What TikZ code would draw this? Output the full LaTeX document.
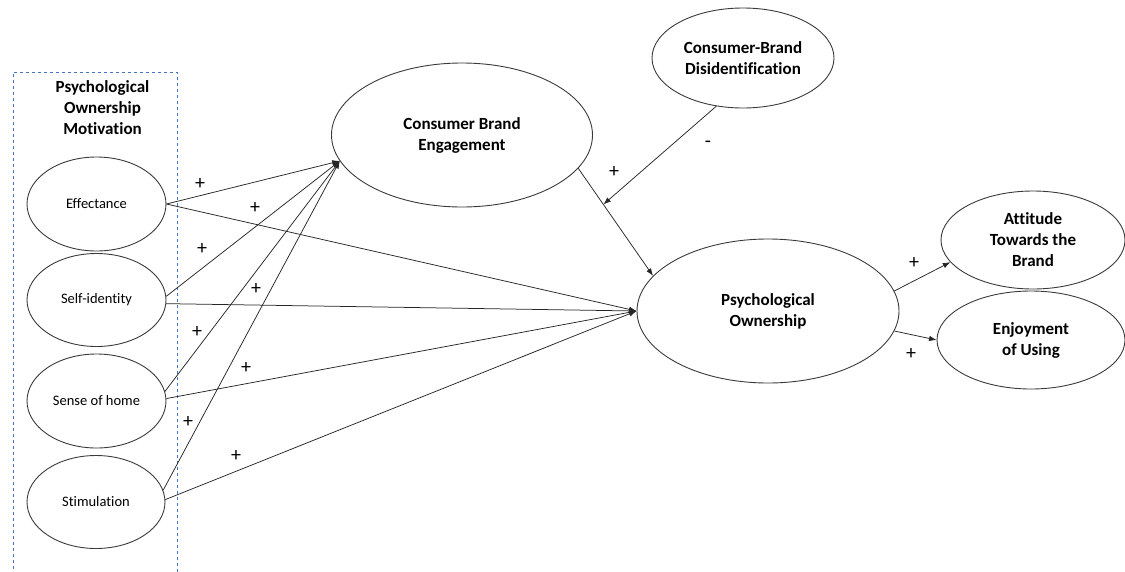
\documentclass[tikz,border=0pt]{standalone}
\usepackage{fontspec}
\setmainfont{Carlito}[Ligatures=NoCommon]
\usetikzlibrary{arrows.meta,shapes.geometric}
\definecolor{boxblue}{HTML}{4472C4}
\definecolor{edge}{HTML}{3A3A3A}
\tikzset{
  ell/.style={ellipse,draw=edge,line width=0.9pt,inner sep=0pt,align=center},
  small/.style={ell,font=\fontsize{14.5}{17}\selectfont},
  big/.style={ell,font=\bfseries\fontsize{17}{21}\selectfont},
  arr/.style={draw=black!85,line width=0.75pt,-{Latex[length=7.5pt,width=5.5pt]}},
  sign/.style={font=\fontsize{20}{20}\selectfont,inner sep=0pt}
}
\begin{document}
\begin{tikzpicture}[x=1pt,y=-1pt]
\useasboundingbox (0,0) rectangle (1125,571);
% dashed group box
\draw[boxblue,dashed,line width=0.7pt] (13,575) -- (13,72) -- (177,72) -- (177,575);
\node[font=\bfseries\fontsize{17}{21}\selectfont,align=center] (title) at (102.5,108) {Psychological\\Ownership\\Motivation};
% nodes
\node[small,minimum width=139pt,minimum height=94pt] (eff) at (96.5,204) {Effectance};
\node[small,minimum width=139pt,minimum height=93pt] (self) at (96.5,300) {Self-identity};
\node[small,minimum width=139pt,minimum height=94pt] (home) at (96.5,401) {Sense of home};
\node[small,minimum width=138pt,minimum height=93pt] (stim) at (96,502) {Stimulation};
\node[big,minimum width=261pt,minimum height=144pt] (cbe) at (462,135) {Consumer Brand\\Engagement};
\node[big,minimum width=182pt,minimum height=100pt] (dis) at (743,58) {Consumer-Brand\\Disidentification};
\node[big,minimum width=262pt,minimum height=144pt] (po) at (768,311) {Psychological\\Ownership};
\node[big,minimum width=184pt,minimum height=98pt] (att) at (1033,240) {Attitude\\Towards the\\Brand};
\node[big,minimum width=188pt,minimum height=98pt] (enj) at (1031,340) {Enjoyment\\of Using};
% arrows to CBE
\draw[arr] (eff.east) -- (cbe.192);
\draw[arr] (self.3) -- (cbe.192);
\draw[arr] (home.8) -- (cbe.192);
\draw[arr] (stim.10) -- (cbe.192);
% arrows to PO
\draw[arr] (eff.east) -- (po.west);
\draw[arr] (self.-3) -- (po.west);
\draw[arr] (home.2) -- (po.west);
\draw[arr] (stim.2) -- (po.west);
% CBE -> PO with moderator
\draw[arr] (cbe.-16) -- coordinate[pos=0.336] (mod) (po.163);
\draw[arr] (dis.241) -- (mod);
% outcomes
\draw[arr] (po.9) -- (att.195);
\draw[arr] (po.-9.4) -- (enj.west);
% signs
\node[sign] (s1) at (200,184) {+};
\node[sign] (s2) at (255,208) {+};
\node[sign] (s3) at (202,249) {+};
\node[sign] (s4) at (256,289) {+};
\node[sign] (s5) at (197,332) {+};
\node[sign] (s6) at (246,368) {+};
\node[sign] (s7) at (188,422) {+};
\node[sign] (s8) at (236,456) {+};
\node[sign] (s9) at (614,172) {+};
\node[sign] (s10) at (708,144) {-};
\node[sign] (s11) at (914,263) {+};
\node[sign] (s12) at (911,354) {+};
\end{tikzpicture}
\end{document}
